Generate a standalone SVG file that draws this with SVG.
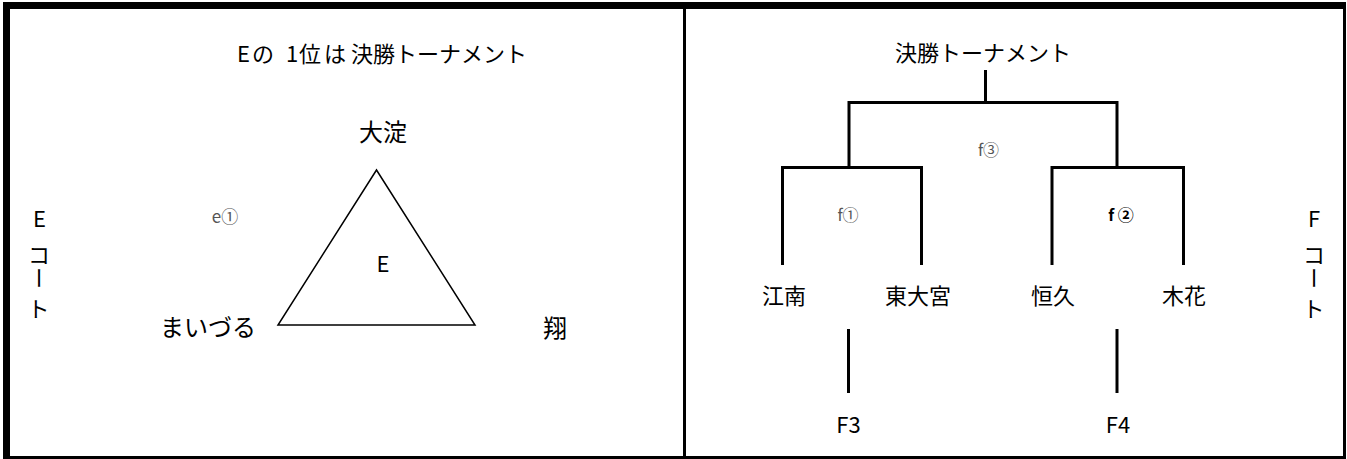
<svg xmlns="http://www.w3.org/2000/svg" width="1347" height="459" viewBox="0 0 1347 459">
<style>
text{font-family:"Noto Sans CJK JP","Noto Sans",sans-serif;fill:#000}
.l{font-size:24px}
.r{font-size:22px}
.c{text-anchor:middle}
.m{font-size:16px;fill:#555;text-anchor:middle}
.b{fill:#000;font-weight:bold}
.v{font-size:22px}
.ln{stroke:#000;stroke-width:3;fill:none;stroke-linecap:butt}
</style>
<rect width="1347" height="459" fill="#fff"/>
<g id="frame" fill="#000">
<rect x="3" y="2" width="1343" height="7"/>
<rect x="3" y="2" width="7" height="457"/>
<rect x="1343" y="2" width="3" height="457"/>
<rect x="3" y="456" width="1343" height="3"/>
<rect x="683" y="2" width="3" height="457"/>
</g>
<g id="title-e"><text class="r" x="237 252 286 299 324 351" y="62">Eの1位は決勝トーナメント</text></g>
<g id="court-e"><text class="v" x="33 28 31 27.5" y="227 263 267 317" rotate="0 0 90 0">Eコート</text></g>
<g id="team-oyodo"><text class="l c" x="383" y="141">大淀</text></g>
<g id="team-maizuru"><text class="l c" x="208" y="336">まいづる</text></g>
<g id="team-sho"><text class="l c" x="555" y="337">翔</text></g>
<g id="match-e1"><text class="m" x="225" y="223" style="font-size:17px">e①</text></g>
<g id="group-e">
<polygon points="376.5,170 278,325 475,325" fill="none" stroke="#000" stroke-width="1.5" stroke-linejoin="miter"/>
<text class="r c" x="383" y="272">E</text>
</g>
<g id="title-f"><text class="r c" x="983" y="61">決勝トーナメント</text></g>
<g id="court-f"><text class="v" x="1308 1303 1306 1302.5" y="227 263 267 317" rotate="0 0 90 0">Fコート</text></g>
<g id="team-konan"><text class="r c" x="784" y="304">江南</text></g>
<g id="team-higashiomiya"><text class="r c" x="918" y="304">東大宮</text></g>
<g id="team-kokyu"><text class="r c" x="1053" y="304">恒久</text></g>
<g id="team-kibana"><text class="r c" x="1184" y="304">木花</text></g>
<g id="f3"><text class="r c" x="848.5" y="433">F3</text></g>
<g id="f4"><text class="r c" x="1118" y="433">F4</text></g>
<g id="match-f1"><text class="m" x="848" y="221">f①</text></g>
<g id="match-f2"><text class="m b" x="1121" y="221">f ②</text></g>
<g id="match-f3"><text class="m" x="988.5" y="156">f③</text></g>
<g id="connectors" class="ln">
<path class="ln" d="M985.5 70V102.5M849 167.5V102.5H1117V167.5"/>
<path class="ln" d="M782.5 265V167.5H921.5V265"/>
<path class="ln" d="M1052 265V167.5H1183.5V265"/>
<path class="ln" d="M848.5 329V393"/>
<path class="ln" d="M1117 329V393"/>
</g>
</svg>
